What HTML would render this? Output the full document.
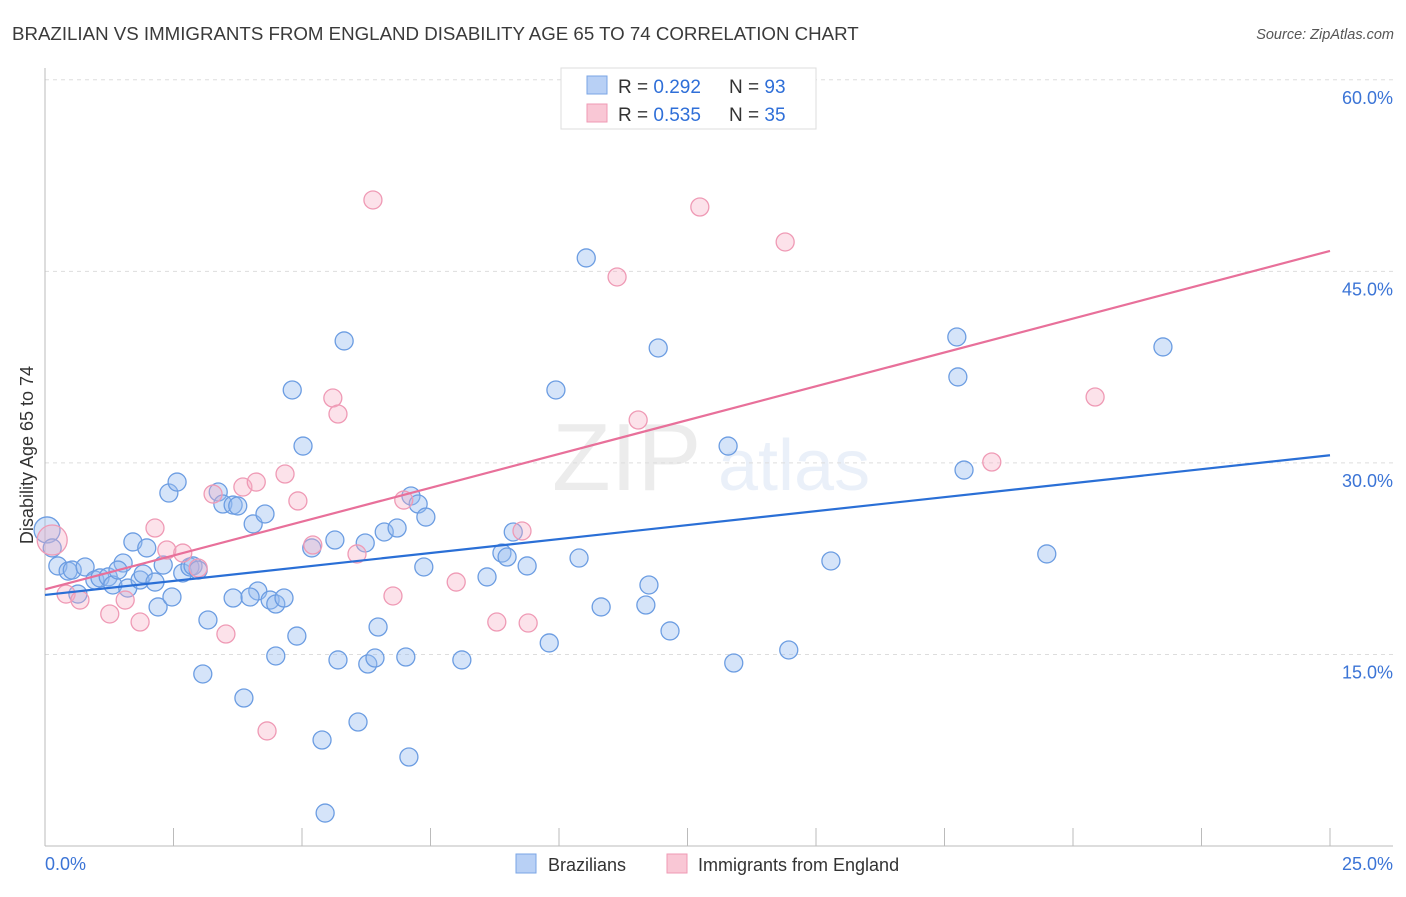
<!DOCTYPE html>
<html><head><meta charset="utf-8"><style>
body{margin:0;background:#fff;font-family:"Liberation Sans",sans-serif;}
svg text{font-family:"Liberation Sans",sans-serif;}
</style></head><body>
<svg id="chart" width="1406" height="892" viewBox="0 0 1406 892" xmlns="http://www.w3.org/2000/svg">
<text x="12" y="40" font-size="18.7" fill="#3a3a3a">BRAZILIAN VS IMMIGRANTS FROM ENGLAND DISABILITY AGE 65 TO 74 CORRELATION CHART</text>
<text x="1394" y="39" font-size="14.5" fill="#555" font-style="italic" text-anchor="end">Source: ZipAtlas.com</text>
<g opacity="0.18">
<text x="552" y="490" font-size="96" fill="#999" font-family="Liberation Serif">ZIP</text>
<text x="718" y="490" font-size="72" fill="#8fb0e0">atlas</text>
</g>
<g id="grid"></g>
<g id="axes"></g>
<g id="marks"></g>
<text transform="translate(33,455) rotate(-90)" font-size="18" fill="#333" text-anchor="middle">Disability Age 65 to 74</text>
<text x="45" y="870" font-size="18" fill="#3b74d6">0.0%</text>
<text x="1393" y="870" font-size="18" fill="#3b74d6" text-anchor="end">25.0%</text>
<g>
<rect x="561" y="68" width="255" height="61" fill="#fff" stroke="#ddd"/>
<rect x="587" y="76" width="20" height="18" fill="#b8d0f5" stroke="#7aa5e5"/>
<rect x="587" y="104" width="20" height="18" fill="#f9c7d5" stroke="#ef9ab4"/>
<text x="618" y="93" font-size="19" fill="#333">R = <tspan fill="#2f6fd8">0.292</tspan></text>
<text x="729" y="93" font-size="19" fill="#333">N = <tspan fill="#2f6fd8">93</tspan></text>
<text x="618" y="121" font-size="19" fill="#333">R = <tspan fill="#2f6fd8">0.535</tspan></text>
<text x="729" y="121" font-size="19" fill="#333">N = <tspan fill="#2f6fd8">35</tspan></text>
</g>
<g>
<rect x="516" y="854" width="20" height="19" fill="#b8d0f5" stroke="#7aa5e5"/>
<text x="548" y="871" font-size="18" fill="#333">Brazilians</text>
<rect x="667" y="854" width="20" height="19" fill="#f9c7d5" stroke="#ef9ab4"/>
<text x="698" y="871" font-size="18" fill="#333">Immigrants from England</text>
</g>
</svg>
<script>
const yTicks=[15,30,45,60];
const yTickLabels=["15.0%","30.0%","45.0%","60.0%"];
const xTicks=[0,2.5,5,7.5,10,12.5,15,17.5,20,22.5,25];
const blueX=[0.04,0.14,0.25,0.45,0.53,0.64,0.78,0.97,1.07,1.23,1.32,1.52,1.42,1.61,1.71,1.85,1.91,1.98,2.14,2.20,2.30,2.47,2.41,2.57,2.68,2.82,2.88,2.98,3.17,3.07,3.37,3.46,3.66,3.75,3.66,3.87,4.05,4.14,3.99,4.28,4.38,4.49,4.65,4.49,4.81,4.90,5.02,5.19,5.39,5.45,5.64,5.70,5.82,6.09,6.23,6.28,6.42,6.48,6.60,6.85,7.02,7.08,7.12,7.26,7.41,7.37,8.11,8.60,8.89,8.99,9.11,9.38,9.81,9.94,10.39,10.53,10.82,11.69,11.75,11.93,12.16,13.29,13.40,14.47,15.29,17.74,17.76,17.88,19.49,21.75];
const blueY=[24.75,23.34,21.93,21.53,21.61,19.73,21.85,20.83,20.99,21.07,20.44,22.16,21.61,20.20,23.81,20.83,21.30,23.34,20.67,18.72,22.00,19.50,27.64,28.50,21.38,21.85,21.93,21.61,17.70,13.47,27.72,26.78,26.70,26.63,19.42,11.59,25.22,19.97,19.50,26.00,19.26,18.95,19.42,14.88,35.71,16.44,31.32,23.34,8.30,2.58,23.96,14.57,39.55,9.71,23.73,14.25,14.72,17.15,24.59,24.90,14.80,6.97,27.41,26.78,25.76,21.85,14.57,21.07,22.94,22.63,24.59,21.93,15.90,35.71,22.55,46.05,18.72,18.87,20.44,39.00,16.84,31.32,14.33,15.35,22.32,39.86,36.73,29.44,22.87,39.08];
const pinkX=[0.14,0.41,0.68,1.26,1.56,1.85,2.14,2.37,2.68,2.98,3.27,3.52,3.85,4.11,4.32,4.67,4.92,5.21,5.60,5.70,6.07,6.38,6.77,6.98,8.00,8.79,9.28,9.40,11.13,11.54,12.74,14.40,18.42,20.43];
const pinkY=[23.96,19.73,19.26,18.17,19.26,17.54,24.90,23.18,22.94,21.77,27.56,16.60,28.11,28.50,9.01,29.13,27.02,23.57,35.08,33.83,22.87,50.59,19.58,27.09,20.67,17.54,24.67,17.46,44.56,33.36,50.04,47.30,30.07,35.16];
const blueTrend=[19.66,30.6];
const pinkTrend=[20.1,46.6];
const NS="http://www.w3.org/2000/svg";
const X0=45,X1=1330,Y0=846,PPY=12.77;
const sx=v=>X0+v/25*(X1-X0);
const sy=v=>Y0-v*PPY;
function mk(tag,attrs,parent){const e=document.createElementNS(NS,tag);for(const k in attrs)e.setAttribute(k,attrs[k]);document.getElementById(parent).appendChild(e);return e;}
yTicks.forEach((t,i)=>{
  const l=mk('line',{x1:45,x2:1393,y1:sy(t),y2:sy(t),stroke:'#ddd','stroke-dasharray':'4,4'},'grid');
  
  
  const tx=mk('text',{x:1393,y:sy(t)+24,'font-size':18,fill:'#3b74d6','text-anchor':'end'},'grid');
  tx.textContent=yTickLabels[i];
  
  
});
const ax=mk('line',{x1:45,x2:45,y1:68,y2:846,stroke:'#bbb'},'axes');


const bx=mk('line',{x1:45,x2:1393,y1:846,y2:846,stroke:'#bbb'},'axes');


xTicks.forEach(t=>{
  const l=mk('line',{x1:sx(t),x2:sx(t),y1:828,y2:846,stroke:'#bbb'},'axes');
  
  
});
blueX.forEach((x,i)=>{
  const c=mk('circle',{cx:sx(x),cy:sy(blueY[i]),r:i===0?13:9,fill:'rgba(150,187,240,0.4)',stroke:'#6c9de2','stroke-width':1.3},'marks');
  
  
});
pinkX.forEach((x,i)=>{
  const c=mk('circle',{cx:sx(x),cy:sy(pinkY[i]),r:i===0?15:9,fill:'rgba(245,172,196,0.35)',stroke:'#ef9ab5','stroke-width':1.3},'marks');
  
  
});
const bl=mk('line',{x1:sx(0),y1:sy(blueTrend[0]),x2:sx(25),y2:sy(blueTrend[1]),stroke:'#2a6fd6','stroke-width':2.2},'marks');


const pl=mk('line',{x1:sx(0),y1:sy(pinkTrend[0]),x2:sx(25),y2:sy(pinkTrend[1]),stroke:'#e8709a','stroke-width':2.2},'marks');


</script>
</body></html>
